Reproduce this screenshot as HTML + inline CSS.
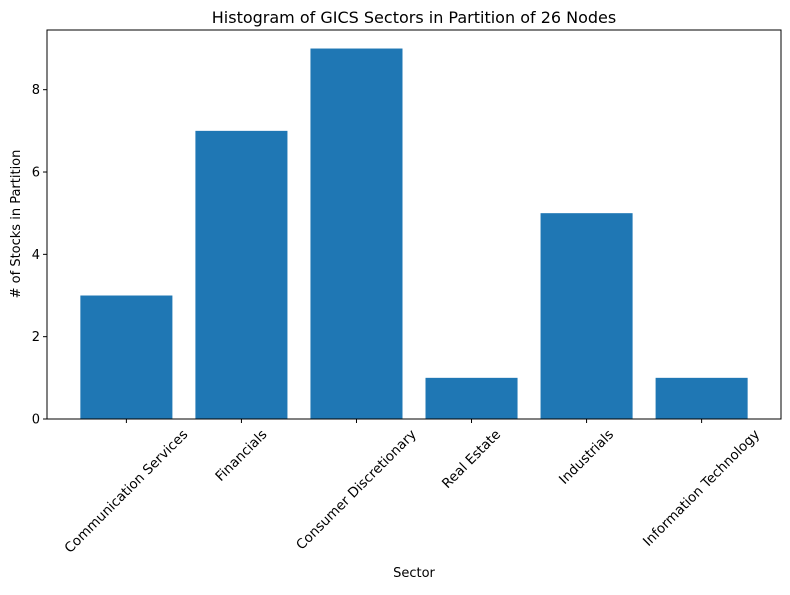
<!DOCTYPE html>
<html><head><meta charset="utf-8"><style>
body{margin:0;background:#fff}
svg text{font-family:"DejaVu Sans","Liberation Sans",sans-serif;fill:#000}
</style></head><body>
<svg id="chart" width="790" height="590" xmlns="http://www.w3.org/2000/svg">
<rect width="790" height="590" fill="#fff"/>
<g id="bars"></g><g id="xt"></g><g id="yt"></g>
<rect x="47" y="30" width="734" height="389" fill="none" stroke="#000" stroke-width="1"/>
<text x="414" y="23" font-size="16" text-anchor="middle">Histogram of GICS Sectors in Partition of 26 Nodes</text>
<text x="414" y="577" font-size="13" text-anchor="middle">Sector</text>
<text transform="translate(20,224) rotate(-90)" font-size="13" text-anchor="middle"># of Stocks in Partition</text>
</svg>
<script>
const categories=["Communication Services","Financials","Consumer Discretionary","Real Estate","Industrials","Information Technology"];
const counts=[3,7,9,1,5,1];
const yTicks=[0,2,4,6,8];
const L=47,R=781,T=30,B=419;
const xmin=-0.69,xmax=5.69,ymin=0,ymax=9.45;
const xs=v=>L+(v-xmin)/(xmax-xmin)*(R-L);
const ys=v=>B-(v-ymin)/(ymax-ymin)*(B-T);
const NS="http://www.w3.org/2000/svg";
const bars=document.getElementById('bars'),xt=document.getElementById('xt'),yt=document.getElementById('yt');
function mk(t,a,p){const e=document.createElementNS(NS,t);for(const k in a)e.setAttribute(k,a[k]);p.appendChild(e);return e;}
counts.forEach((c,i)=>{
 const r=mk('rect',{x:xs(i-0.4),y:ys(c),width:xs(i+0.4)-xs(i-0.4),height:ys(0)-ys(c),fill:'#1f77b4'},bars);
 
 
 const x=xs(i);
 const tk=mk('line',{x1:x,x2:x,y1:B,y2:B+4,stroke:'#000'},xt);
 
 
 const t=mk('text',{'font-size':13.5,'text-anchor':'middle','dominant-baseline':'central'},xt);
 t.textContent=categories[i];
 
 
 const w=t.getComputedTextLength(),h=15;
 const cy=B+8+(w+h)*0.7071/2;
 t.setAttribute('transform',`translate(${x},${cy}) rotate(-45)`);
});
yTicks.forEach(v=>{
 const y=ys(v);
 const tk=mk('line',{x1:L-4,x2:L,y1:y,y2:y,stroke:'#000'},yt);
 
 
 const t=mk('text',{x:L-7,y:y+4.5,'font-size':13,'text-anchor':'end'},yt);
 t.textContent=v;
 
 
});
</script>
</body></html>
